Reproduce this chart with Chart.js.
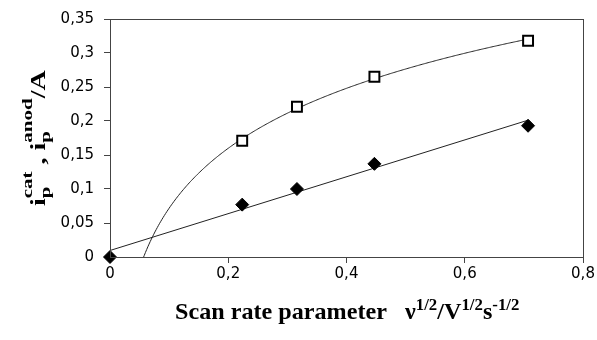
<!DOCTYPE html>
<html>
<head>
<meta charset="utf-8">
<script src="https://cdn.jsdelivr.net/npm/chart.js@4/dist/chart.umd.min.js"></script>
<style>
  html, body { margin: 0; padding: 0; background: #fff; }
  #wrap { width: 597px; height: 340px; }
</style>
</head>
<body>
<div id="wrap"><canvas id="peakChart"></canvas></div>
<script>
// values
const cathodicX = [0.2236, 0.3162, 0.4472, 0.7071];
const cathodicPeak = [0.171, 0.221, 0.265, 0.318];
const anodicX = [0, 0.2236, 0.3162, 0.4472, 0.7071];
const anodicPeak = [0, 0.077, 0.100, 0.137, 0.193];
const xTicks = [0, 0.2, 0.4, 0.6, 0.8];
const yTicks = [0, 0.05, 0.1, 0.15, 0.2, 0.25, 0.3, 0.35];

function fmt(v) {
    return String(Math.round(v * 100) / 100).replace('.', ',');
}

// least squares fit y = a*f(x) + b
function fit(xs, ys, f) {
    const u = xs.map(f);
    const n = u.length;
    const mu = u.reduce((s, v) => s + v, 0) / n;
    const my = ys.reduce((s, v) => s + v, 0) / n;
    let sxy = 0, sxx = 0;
    for (let i = 0; i < n; i++) {
        sxy += (u[i] - mu) * (ys[i] - my);
        sxx += (u[i] - mu) * (u[i] - mu);
    }
    const a = sxy / sxx;
    return { a: a, b: my - a * mu };
}

const trendPlugin = {
    id: 'trend',
    beforeDatasetsDraw(chart) {
        const ctx = chart.ctx, area = chart.chartArea;
        const xs = chart.scales.x, ys = chart.scales.y;
        const lin = fit(anodicX, anodicPeak, x => x);
        const lg = fit(cathodicX, cathodicPeak, x => Math.log(x));
        ctx.save();
        ctx.beginPath();
        ctx.rect(area.left, area.top, area.right - area.left, area.bottom - area.top);
        ctx.clip();
        ctx.strokeStyle = '#222';
        ctx.lineWidth = 1;
        // linear trend
        const x0 = 0, x1 = anodicX[anodicX.length - 1];
        ctx.beginPath();
        ctx.moveTo(xs.getPixelForValue(x0), ys.getPixelForValue(lin.a * x0 + lin.b));
        ctx.lineTo(xs.getPixelForValue(x1), ys.getPixelForValue(lin.a * x1 + lin.b));
        ctx.stroke();
        // logarithmic trend
        ctx.beginPath();
        const xEnd = cathodicX[cathodicX.length - 1];
        let first = true;
        for (let x = 0.02; x <= xEnd + 1e-9; x += 0.002) {
            const px = xs.getPixelForValue(x), py = ys.getPixelForValue(lg.a * Math.log(x) + lg.b);
            if (first) { ctx.moveTo(px, py); first = false; } else ctx.lineTo(px, py);
        }
        ctx.lineTo(xs.getPixelForValue(xEnd), ys.getPixelForValue(lg.a * Math.log(xEnd) + lg.b));
        ctx.stroke();
        ctx.restore();
    }
};

// draw runs of text with sub/superscripts
function drawRuns(ctx, runs, x, y) {
    let cx = x;
    runs.forEach(r => {
        if (r.stack) {
            let w = 0;
            r.stack.forEach(s => {
                ctx.font = s.font;
                ctx.fillText(s.text, cx, y + s.dy);
                w = Math.max(w, ctx.measureText(s.text).width);
            });
            cx += w;
        } else {
            ctx.font = r.font;
            ctx.fillText(r.text, cx, y + (r.dy || 0));
            cx += ctx.measureText(r.text).width;
        }
    });
    return cx - x;
}

const serif = '"Liberation Serif", "Times New Roman", serif';

const titlePlugin = {
    id: 'titles',
    afterDraw(chart) {
        const ctx = chart.ctx, area = chart.chartArea;
        ctx.save();
        ctx.strokeStyle = '#444';
        ctx.lineWidth = 1;
        ctx.strokeRect(area.left + 0.5, area.top + 0.5, area.right - area.left, area.bottom - area.top);
        ctx.fillStyle = '#000';
        ctx.textBaseline = 'alphabetic';
        ctx.textAlign = 'left';

        // x title (slightly wide lettering like the scan)
        const xb = 'bold 23px ' + serif, xs = 'bold 16px ' + serif;
        const xRuns = [
            { text: 'Scan rate parameter   \u03BD', font: xb },
            { text: '1/2', font: xs, dy: -9 },
            { text: '/V', font: xb },
            { text: '1/2', font: xs, dy: -9 },
            { text: 's', font: xb },
            { text: '-1/2', font: xs, dy: -9 }
        ];
        ctx.save();
        ctx.translate(175, 319);
        ctx.scale(1.05, 1);
        drawRuns(ctx, xRuns, 0, 0);
        ctx.restore();

        // y title, rotated
        const yb = 'bold 20px ' + serif, ys = 'bold 15px ' + serif;
        const yRuns = [
            { text: 'i', font: yb },
            { stack: [{ text: 'p', font: ys, dy: 5 }, { text: 'cat', font: ys, dy: -13 }] },
            { text: ' , ', font: yb },
            { text: 'i', font: yb },
            { stack: [{ text: 'p', font: ys, dy: 5 }, { text: 'anod', font: ys, dy: -13 }] },
            { text: '/A', font: yb }
        ];
        ctx.save();
        ctx.translate(45, 206);
        ctx.rotate(-Math.PI / 2);
        ctx.scale(1.4, 1);
        drawRuns(ctx, yRuns, 0, 0);
        ctx.restore();
        ctx.restore();
    }
};

const axisFont = { family: '"DejaVu Sans", "Liberation Sans", Arial, sans-serif', size: 15 };

new Chart(document.getElementById('peakChart'), {
    type: 'scatter',
    data: {
        datasets: [{
            label: 'cat',
            data: cathodicX.map((x, i) => ({ x: x, y: cathodicPeak[i] })),
            pointStyle: 'rect',
            pointRadius: 7,
            pointBorderWidth: 2,
            pointBackgroundColor: '#fff',
            pointBorderColor: '#000',
            showLine: false,
            clip: false
        }, {
            label: 'anod',
            data: anodicX.map((x, i) => ({ x: x, y: anodicPeak[i] })),
            pointStyle: 'rectRot',
            pointRadius: 6.5,
            pointBorderWidth: 1,
            pointBackgroundColor: '#000',
            pointBorderColor: '#000',
            showLine: false,
            clip: false
        }]
    },
    options: {
        responsive: true,
        maintainAspectRatio: false,
        animation: false,
        layout: { padding: { top: 19, right: 14, left: 0, bottom: 0 } },
        scales: {
            x: {
                type: 'linear',
                min: 0,
                max: 0.8,
                afterBuildTicks: s => { s.ticks = xTicks.map(v => ({ value: v })); },
                afterFit: s => { s.height = 83; },
                ticks: { callback: fmt, color: '#000', font: axisFont, padding: 2, maxRotation: 0 },
                grid: { drawOnChartArea: false, drawTicks: true, tickLength: 6, color: '#444' },
                border: { color: '#333' }
            },
            y: {
                min: 0,
                max: 0.35,
                afterBuildTicks: s => { s.ticks = yTicks.map(v => ({ value: v })); },
                afterFit: s => { s.width = 110; },
                ticks: { callback: fmt, color: '#000', font: axisFont, padding: 10 },
                grid: { drawOnChartArea: false, drawTicks: true, tickLength: 6, color: '#444' },
                border: { color: '#333' }
            }
        },
        plugins: {
            legend: { display: false },
            tooltip: { enabled: false }
        }
    },
    plugins: [trendPlugin, titlePlugin]
});
</script>
</body>
</html>
